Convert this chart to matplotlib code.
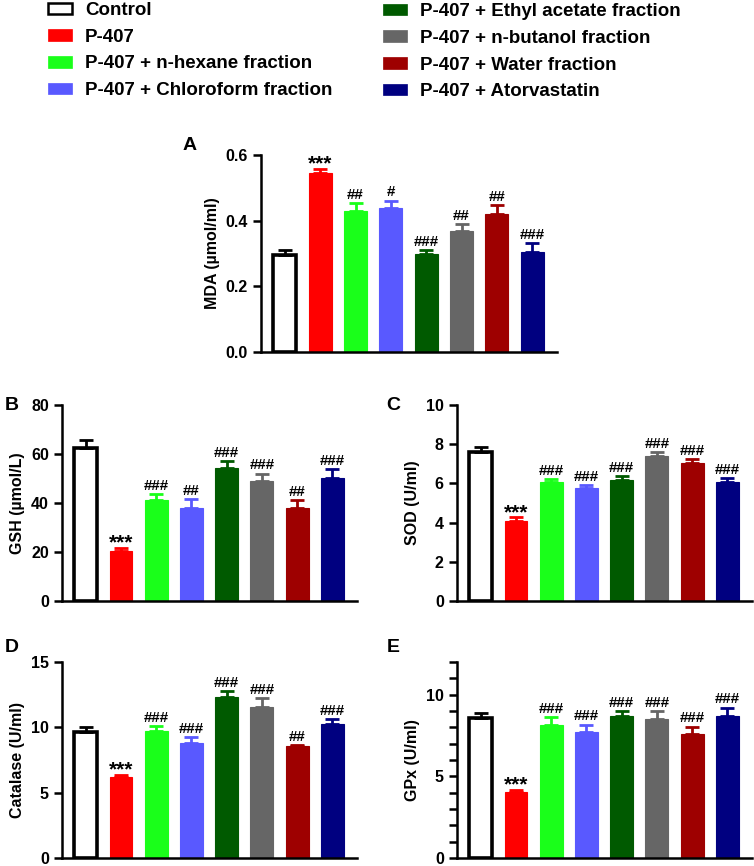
import numpy as np
import matplotlib.pyplot as plt
from matplotlib.patches import Patch

plt.rcParams['font.family'] = ['Liberation Sans', 'DejaVu Sans']
plt.rcParams['font.weight'] = 'bold'

groups = ['Control', 'P-407', 'P-407 + n-hexane fraction', 'P-407 + Chloroform fraction',
          'P-407 + Ethyl acetate fraction', 'P-407 + n-butanol fraction',
          'P-407 + Water fraction', 'P-407 + Atorvastatin']
colors = ['white', '#FF0000', '#1AFF1A', '#5959FF', '#005A00', '#666666', '#9E0000', '#000080']

mda = [0.295, 0.546, 0.429, 0.440, 0.297, 0.369, 0.421, 0.305]
mda_err = [0.017, 0.012, 0.024, 0.021, 0.013, 0.021, 0.026, 0.026]
mda_sig = ['', '***', '##', '#', '###', '##', '##', '###']

gsh = [62.3, 20.4, 41.1, 38.0, 54.2, 49.0, 38.1, 50.1]
gsh_err = [3.6, 1.4, 2.6, 3.5, 2.9, 3.0, 3.0, 3.7]
gsh_sig = ['', '***', '###', '##', '###', '###', '##', '###']

sod = [7.60, 4.10, 6.05, 5.78, 6.17, 7.38, 7.06, 6.09]
sod_err = [0.26, 0.17, 0.19, 0.14, 0.21, 0.21, 0.17, 0.19]
sod_sig = ['', '***', '###', '###', '###', '###', '###', '###']

cat = [9.66, 6.18, 9.74, 8.80, 12.33, 11.59, 8.54, 10.22]
cat_err = [0.36, 0.18, 0.38, 0.48, 0.43, 0.64, 0.10, 0.43]
cat_sig = ['', '***', '###', '###', '###', '###', '##', '###']

gpx = [8.60, 4.04, 8.15, 7.72, 8.68, 8.52, 7.58, 8.68]
gpx_err = [0.30, 0.15, 0.49, 0.45, 0.30, 0.50, 0.47, 0.53]
gpx_sig = ['', '***', '###', '###', '###', '###', '###', '###']

W, H = 754, 866
fig = plt.figure(figsize=(W / 100, H / 100), dpi=100)


def px_axes(x0, y_top, x1, y_bot):
    return fig.add_axes([x0 / W, 1 - y_bot / H, (x1 - x0) / W, (y_bot - y_top) / H])


def bar_panel(ax, vals, errs, sigs, ymax, major, ylabel, minor=None, fmt='{:g}'):
    x = np.arange(len(vals))
    for i in range(len(vals)):
        ec = 'black' if i == 0 else colors[i]
        lw = 2.6 if i == 0 else 0.8
        ax.bar(x[i], vals[i], width=0.65, color=colors[i], edgecolor=ec, linewidth=lw, zorder=2)
        ax.errorbar(x[i], vals[i], yerr=[[0], [errs[i]]], color=ec, elinewidth=2,
                    capsize=5, capthick=2, zorder=3)
        top = vals[i] + errs[i]
        if sigs[i] == '***':
            ax.annotate(sigs[i], (x[i], top), xytext=(0, -0.5), textcoords='offset points',
                        ha='center', va='baseline', fontsize=15, fontweight='bold')
        elif sigs[i]:
            ax.annotate(sigs[i], (x[i], top), xytext=(0, 3), textcoords='offset points',
                        ha='center', va='baseline', fontsize=10.8, fontweight='bold')
    ax.set_xlim(-0.675, 7.7)
    ax.set_ylim(0, ymax)
    ax.set_yticks(major)
    ax.set_yticklabels([fmt.format(v) for v in major])
    if minor is not None:
        ax.set_yticks(minor, minor=True)
        ax.tick_params(axis='y', which='minor', length=6, width=1.8)
    ax.set_xticks([])
    ax.spines['top'].set_visible(False)
    ax.spines['right'].set_visible(False)
    ax.spines['left'].set_linewidth(1.8)
    ax.spines['bottom'].set_linewidth(1.8)
    ax.tick_params(axis='y', which='major', length=6, width=1.8, labelsize=11.5)
    ax.set_ylabel(ylabel, fontsize=11.5, fontweight='bold')
    for t in ax.get_yticklabels():
        t.set_fontweight('bold')


axA = px_axes(261, 155, 557, 352)
bar_panel(axA, mda, mda_err, mda_sig, 0.6, [0, 0.2, 0.4, 0.6], 'MDA (µmol/ml)', fmt='{:.1f}')
axB = px_axes(62, 405, 357, 601)
bar_panel(axB, gsh, gsh_err, gsh_sig, 80, [0, 20, 40, 60, 80], 'GSH (µmol/L)')
axC = px_axes(457, 405, 752, 601)
bar_panel(axC, sod, sod_err, sod_sig, 10, [0, 2, 4, 6, 8, 10], 'SOD (U/ml)')
axD = px_axes(62, 662, 357, 858)
bar_panel(axD, cat, cat_err, cat_sig, 15, [0, 5, 10, 15], 'Catalase (U/ml)')
axE = px_axes(457, 662, 752, 858)
bar_panel(axE, gpx, gpx_err, gpx_sig, 12, [0, 5, 10], 'GPx (U/ml)', minor=np.arange(0, 13, 1))

for lab, (px, py) in zip('ABCDE', [(190, 145), (12, 405), (393, 405), (12, 647), (393, 647)]):
    fig.text(px / W, 1 - py / H, lab, fontsize=14, fontweight='bold', ha='center', va='center')

handles = []
for i in range(len(groups)):
    ec = 'black' if i == 0 else colors[i]
    handles.append(Patch(facecolor=colors[i], edgecolor=ec, linewidth=1.8 if i == 0 else 0.5))

leg_kw = dict(frameon=False, handlelength=1.28, handleheight=0.55,
              handletextpad=0.7, labelspacing=0.52, borderaxespad=0, borderpad=0,
              prop={'weight': 'bold', 'size': 13.5})
fig.legend(handles[:4], groups[:4], loc='upper left', bbox_to_anchor=(48 / W, 1 - 2 / H), **leg_kw)
fig.legend(handles[4:], groups[4:], loc='upper left', bbox_to_anchor=(383 / W, 1 - 3 / H), **leg_kw)

fig.savefig('out.png', dpi=100)
